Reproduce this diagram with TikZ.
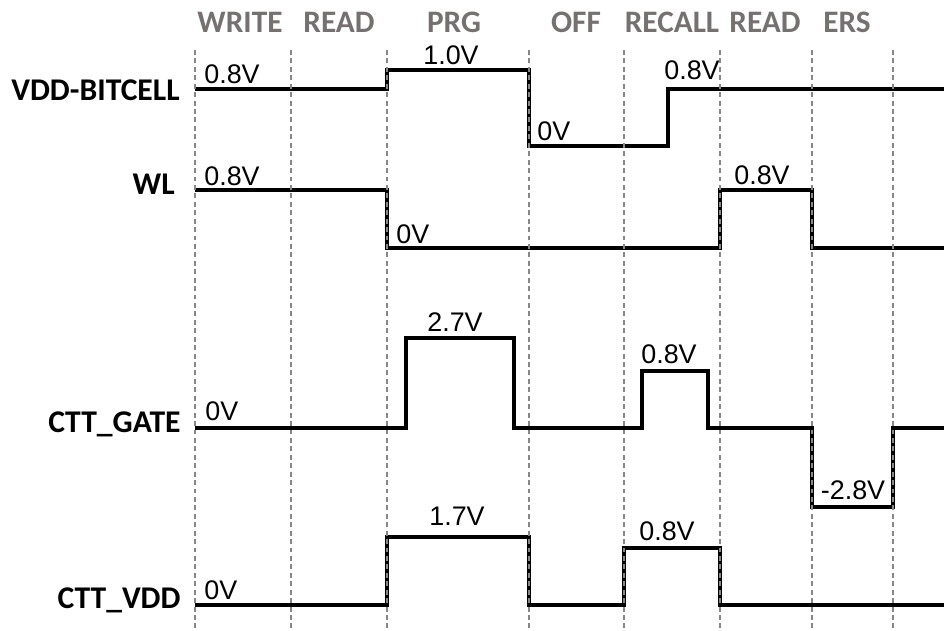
\documentclass[tikz,border=0pt]{standalone}
\usepackage{fontspec}
\setmainfont{Liberation Sans}
\newfontfamily\labfont{Carlito}
\definecolor{hdrgray}{RGB}{118,113,113}
\definecolor{gridgray}{RGB}{135,135,135}

\begin{document}
\begin{tikzpicture}[x=0.02cm,y=-0.02cm,
    sig/.style={line width=1.9pt,black},
    grid/.style={line width=1.4pt,gridgray,dash pattern=on 2.8pt off 2.0pt},
    phase/.style={font=\labfont\bfseries\fontsize{17.8}{19}\selectfont,text=hdrgray,anchor=base,inner sep=0pt},
    signame/.style={font=\labfont\bfseries\fontsize{18}{20}\selectfont,anchor=base east,inner sep=0pt},
    volt/.style={font=\fontsize{15.3}{17}\selectfont,anchor=base,inner sep=0pt}]
    \useasboundingbox (0,0) rectangle (944,630);

    % phases
    \node[phase] (pwrite) at (240,32) {WRITE};
    \node[phase] (pread) at (339,32) {READ};
    \node[phase] (pprg) at (454,32) {PRG};
    \node[phase] (poff) at (576,32) {OFF};
    \node[phase] (precall) at (672,32) {RECALL};
    \node[phase] (pread2) at (765,32) {READ};
    \node[phase] (pers) at (847,32) {ERS};

    % signal names
    \node[signame] (nvdd) at (180,100) {VDD-BITCELL};
    \node[signame] (nwl) at (175,194) {WL};
    \node[signame] (ngate) at (181,432) {CTT\_GATE};
    \node[signame] (nctt) at (181,608) {CTT\_VDD};

    % waveforms
    \draw[sig] (195,89) -- (387,89) -- (387,70) -- (529,70) -- (529,146)
        -- (668,146) -- (668,89) -- (944,89);
    \draw[sig] (195,190) -- (387,190) -- (387,248) -- (720,248) -- (720,190)
        -- (812,190) -- (812,248) -- (944,248);
    \draw[sig] (195,428) -- (406,428) -- (406,338) -- (514,338) -- (514,428)
        -- (642,428) -- (642,371) -- (708,371) -- (708,428) -- (812,428)
        -- (812,507) -- (893,507) -- (893,428) -- (944,428);
    \draw[sig] (195,605) -- (387,605) -- (387,537) -- (529,537) -- (529,605)
        -- (624,605) -- (624,548) -- (720,548) -- (720,605) -- (944,605);

    % voltages
    \node[volt,anchor=base west] (v1a) at (204,83) {0.8V};
    \node[volt] (v1b) at (451,64) {1.0V};
    \node[volt,anchor=base west] (v1c) at (537,140) {0V};
    \node[volt,anchor=base west] (v1d) at (664,79) {0.8V};
    \node[volt,anchor=base west] (v2a) at (204,185) {0.8V};
    \node[volt,anchor=base west] (v2b) at (396,243) {0V};
    \node[volt] (v2c) at (762,184) {0.8V};
    \node[volt,anchor=base west] (v3a) at (205,420) {0V};
    \node[volt] (v3b) at (455,331) {2.7V};
    \node[volt] (v3c) at (669,363) {0.8V};
    \node[volt] (v3d) at (853,499) {-2.8V};
    \node[volt,anchor=base west] (v4a) at (204,599) {0V};
    \node[volt] (v4b) at (457,525) {1.7V};
    \node[volt] (v4c) at (667,540) {0.8V};

    % phase borders
    \foreach \x in {195,291,387,529,624,720,812,893}
        \draw[grid] (\x,50) -- (\x,630);
\end{tikzpicture}
\end{document}
